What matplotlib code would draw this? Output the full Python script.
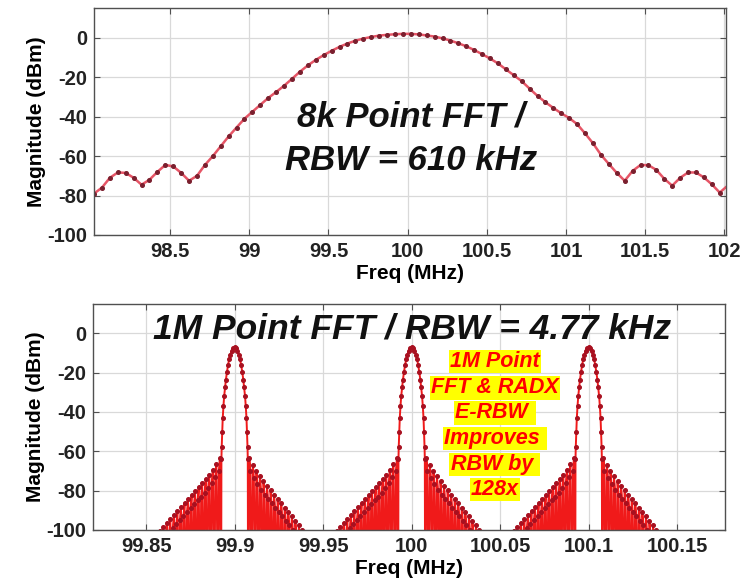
import matplotlib
matplotlib.use("Agg")
import matplotlib.pyplot as plt
import numpy as np

plt.rcParams['font.family'] = ['Liberation Sans', 'DejaVu Sans']

# ---------------- top panel data (8k point FFT) ----------------
freq_top = [98.02, 98.07, 98.12, 98.17, 98.22, 98.27, 98.32, 98.37, 98.42, 98.47,
            98.52, 98.57, 98.62, 98.67, 98.72, 98.77, 98.82, 98.87, 98.92, 98.97,
            99.02, 99.07, 99.12, 99.17, 99.22, 99.27, 99.32, 99.37, 99.42, 99.47,
            99.52, 99.57, 99.62, 99.67, 99.72, 99.77, 99.82, 99.87, 99.92, 99.97,
            100.02, 100.07, 100.12, 100.17, 100.22, 100.27, 100.32, 100.37, 100.42, 100.47,
            100.52, 100.57, 100.62, 100.67, 100.72, 100.77, 100.82, 100.87, 100.92, 100.97,
            101.02, 101.07, 101.12, 101.17, 101.22, 101.27, 101.32, 101.37, 101.42, 101.47,
            101.52, 101.57, 101.62, 101.67, 101.72, 101.77, 101.82, 101.87, 101.92, 101.97,
            102.02]
mag_top = [-79, -76, -71, -68.3, -68.5, -71, -74.5, -72, -68, -64.5,
           -65.2, -68.5, -72.5, -70, -64.5, -60, -55, -50, -45.5, -41,
           -37.5, -34, -30.5, -27.5, -24.3, -20.8, -17.2, -14, -11.2, -8.8,
           -6.6, -4.6, -2.9, -1.5, -0.4, 0.4, 1.1, 1.5, 1.8, 2.0,
           2.0, 1.7, 1.2, 0.6, -0.3, -1.4, -2.8, -4.3, -6.2, -8.3,
           -10.5, -13, -16, -19, -22, -25.8, -29.5, -32.7, -35.6, -38.3,
           -40.7, -43.8, -48.5, -53.5, -59.3, -64, -68.5, -72.5, -67.5, -64.5,
           -64.6, -67, -71.5, -75, -71, -68.3, -68.3, -70.8, -74.3, -78.5,
           -75]
xticks_top = [98.5, 99, 99.5, 100, 100.5, 101, 101.5, 102]
xtick_labels_top = ["98.5", "99", "99.5", "100", "100.5", "101", "101.5", "102"]
yticks = [0, -20, -40, -60, -80, -100]

# ---------------- bottom panel data (1M point FFT) ----------------
peak_centers_mhz = [99.9, 100.0, 100.1]
# main lobe (offset in kHz from the tone, magnitude dBm)
main_off_khz = [-7.45, -7.3, -7.0, -6.7, -6.3, -5.9, -5.4, -4.9, -4.3, -3.7, -3.1, -2.4, -1.6, -0.8,
                0.0, 0.8, 1.6, 2.4, 3.1, 3.7, 4.3, 4.9, 5.4, 5.9, 6.3, 6.7, 7.0, 7.3, 7.45]
main_db = [-64, -58, -50, -43, -37, -32, -27.5, -23.5, -19.6, -16.2, -13.3, -10.8, -8.8, -7.6,
           -7.2, -7.6, -8.8, -10.8, -13.3, -16.2, -19.6, -23.5, -27.5, -32, -37, -43, -50, -58, -64]
# side lobes: peak offsets, "shoulder" sample offsets and null offsets (kHz from tone)
side_peak_khz = [8.3, 10.3, 12.3, 14.3, 16.3, 18.3, 20.3, 22.3, 24.3, 26.3,
                 28.3, 30.3, 32.3, 34.3, 36.3, 38.3, 40.3, 42.3]
side_low_khz = [8.9, 10.9, 12.9, 14.9, 16.9, 18.9, 20.9, 22.9, 24.9, 26.9,
                28.9, 30.9, 32.9, 34.9, 36.9, 38.9, 40.9, 42.9]
side_null_khz = [7.6, 9.4, 11.4, 13.4, 15.4, 17.4, 19.4, 21.4, 23.4, 25.4,
                 27.4, 29.4, 31.4, 33.4, 35.4, 37.4, 39.4, 41.4, 43.4]
left_peak_db = [-63.5, -66.5, -69.3, -71.8, -74, -76.2, -78.3, -80.3, -82.3, -84.3,
                -86.3, -88.3, -90.3, -92.3, -94.3, -96.3, -98.3, -100.3]
left_low_db = [-70, -73, -76, -78.5, -81, -83, -85, -87, -89, -91,
               -93, -95, -97, -99, -101, -103, -105, -107]
right_peak_db = [-63.5, -67, -70, -72.8, -75.3, -77.6, -79.8, -82, -84.2, -86.4,
                 -88.6, -90.8, -93, -95.3, -97.6, -100, -102.5, -105]
right_low_db = [-70, -73.5, -76.5, -79.5, -82, -84.5, -86.5, -89, -91, -93,
                -95.5, -97.5, -100, -102, -104, -107, -109, -111]
null_db = -140
xticks_bot = [99.85, 99.9, 99.95, 100, 100.05, 100.1, 100.15]
xtick_labels_bot = ["99.85", "99.9", "99.95", "100", "100.05", "100.1", "100.15"]

note_lines = ["1M Point", "FFT & RADX", "E-RBW ", "Improves ", "RBW by ", "128x"]
note_y = [-14.4, -27.8, -40.5, -53.4, -66.8, -79.5]


def build_profile():
    off, db = [], []
    n = len(side_peak_khz)
    off.append(-side_null_khz[n]); db.append(null_db)
    for i in range(n - 1, -1, -1):
        off.append(-side_low_khz[i]); db.append(left_low_db[i])
        off.append(-side_peak_khz[i]); db.append(left_peak_db[i])
        off.append(-side_null_khz[i]); db.append(null_db)
    off += main_off_khz; db += main_db
    for i in range(n):
        off.append(side_null_khz[i]); db.append(null_db)
        off.append(side_peak_khz[i]); db.append(right_peak_db[i])
        off.append(side_low_khz[i]); db.append(right_low_db[i])
    off.append(side_null_khz[n]); db.append(null_db)
    return np.array(off), np.array(db)


fig = plt.figure(figsize=(7.42, 5.86), dpi=100)
ax1 = fig.add_axes([0.1267, 0.599, 0.8518, 0.387])
ax2 = fig.add_axes([0.1253, 0.0956, 0.8518, 0.386])

tick_fs = 14.5
lab_fs = 15
spine_col = '#505050'

for ax in (ax1, ax2):
    ax.set_ylim(-100, 15)
    ax.set_yticks(yticks)
    ax.set_yticklabels([str(v) for v in yticks], fontsize=tick_fs, fontweight='bold', color='#222222')
    ax.grid(True, color='#d9d9d9', linewidth=0.9)
    ax.set_axisbelow(True)
    ax.tick_params(direction='in', length=4, color='#505050', top=True, right=True, pad=5)
    for s in ax.spines.values():
        s.set_color(spine_col)
        s.set_linewidth(1.0)
    ax.set_ylabel("Magnitude (dBm)", fontsize=lab_fs, fontweight='bold', labelpad=1)
    ax.set_xlabel("Freq (MHz)", fontsize=lab_fs, fontweight='bold', labelpad=2)

# top panel
ax1.plot(freq_top, mag_top, color='#e65566', linewidth=1.8, marker='o', markersize=2.6,
         markerfacecolor='#7a1f2e', markeredgecolor='#7a1f2e')
ax1.set_xlim(98.02, 102.01)
ax1.set_xticks(xticks_top)
ax1.set_xticklabels(xtick_labels_top, fontsize=tick_fs, fontweight='bold', color='#222222')
ax1.text(100.02, -44.9, "8k Point FFT /", fontsize=25, fontweight='bold', fontstyle='italic',
         ha='center', va='baseline', color='#111111')
ax1.text(100.02, -66.8, "RBW = 610 kHz", fontsize=25, fontweight='bold', fontstyle='italic',
         ha='center', va='baseline', color='#111111')

# bottom panel
off, db = build_profile()
for c in peak_centers_mhz:
    ax2.plot(c + off / 1000.0, db, color='#f01a1a', linewidth=1.4, marker='o', markersize=2.6,
             markerfacecolor='#a81020', markeredgecolor='#a81020')
ax2.set_xlim(99.82, 100.177)
ax2.set_xticks(xticks_bot)
ax2.set_xticklabels(xtick_labels_bot, fontsize=tick_fs, fontweight='bold', color='#222222')
ax2.text(100.0, -2.5, "1M Point FFT / RBW = 4.77 kHz", fontsize=25.5, fontweight='bold',
         fontstyle='italic', ha='center', va='baseline', color='#111111')
for t, y in zip(note_lines, note_y):
    ax2.text(100.047, y, t, fontsize=15.5, fontweight='bold', fontstyle='italic', color='#ff0000',
             ha='center', va='center',
             bbox=dict(boxstyle='square,pad=0.06', facecolor='#ffff00', edgecolor='none'))

fig.savefig("out.png", dpi=100)
